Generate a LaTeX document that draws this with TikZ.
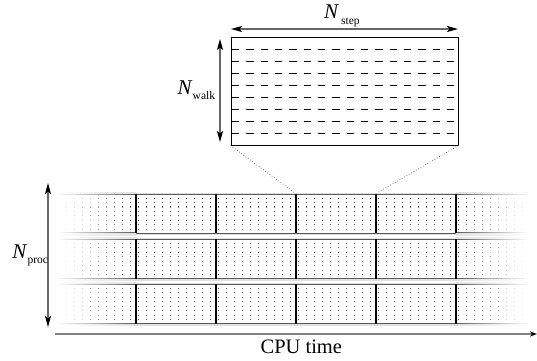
\documentclass[tikz,border=0pt]{standalone}
\usepackage{fontspec}
\setmainfont{Liberation Serif}
\usetikzlibrary{arrows.meta}
\begin{document}
\begin{tikzpicture}[x=1pt,y=-1pt,
  tip/.tip={Stealth[length=11pt,width=6pt,inset=2.5pt,color=black]},
  dim/.style={draw=black!60, line width=1.1pt, tip-tip},
  axisline/.style={draw=black!50, line width=1.4pt, -{Stealth[length=7pt,width=5pt,inset=2pt,color=black]}},
  lab/.style={inner sep=0pt, anchor=base west},
  bigN/.style={lab, font=\fontsize{21}{24}\selectfont\itshape},
  subl/.style={lab, font=\fontsize{11.5}{13}\selectfont},
  divider/.style={draw=black, line width=1.2pt},
  zoomline/.style={draw=black!60, line width=0.7pt, dotted},
  walkdash/.style={draw=black, line width=0.9pt, dash pattern=on 7.3pt off 7.03pt}]
\useasboundingbox (0,0) rectangle (537,360);

% top zoom box
\node[draw=black, line width=1pt, minimum width=227pt, minimum height=108pt, inner sep=0pt] (box) at (344.5,91) {};
\foreach \k in {0,...,7}{
  \draw[walkdash] (232,{49+12*\k}) -- (455,{49+12*\k});
}
\coordinate (s1) at (231,29);
\coordinate (s2) at (458,29);
\draw[dim] (s1) -- (s2);
\node[bigN] (ns) at (324,18.3) {N};
\node[subl] (nss) at (341,24) {step};
\coordinate (w1) at (220,39);
\coordinate (w2) at (220,142);
\draw[dim] (w1) -- (w2);
\node[bigN] (nw) at (177.3,94) {N};
\node[subl] (nws) at (192.5,99.3) {walk};

% processor rows
\foreach \t in {194,239.2,284.4}{
  \pgfmathsetmacro{\b}{\t+39.3}
  % lines
  \foreach \yy/\cc/\hh in {\t/black!65/0.5, \b/black!65/0.5}{
    \shade[left color=white, right color=\cc] (56,\yy-\hh) rectangle (136,\yy+\hh);
    \fill[\cc] (136,\yy-\hh) rectangle (456,\yy+\hh);
    \shade[left color=\cc, right color=white] (456,\yy-\hh) rectangle (528,\yy+\hh);
  }
  % light bands
  \shade[left color=white, right color=black!12] (56,\t-1.5) rectangle (136,\t-0.5);
  \fill[black!12] (136,\t-1.5) rectangle (456,\t-0.5);
  \shade[left color=black!12, right color=white] (456,\t-1.5) rectangle (528,\t-0.5);
  \shade[left color=white, right color=black!12] (56,\b+0.5) rectangle (136,\b+2);
  \fill[black!12] (136,\b+0.5) rectangle (456,\b+2);
  \shade[left color=black!12, right color=white] (456,\b+0.5) rectangle (528,\b+2);
  % dots
  \foreach \i in {0,...,59}{
    \pgfmathsetmacro{\f}{\i<10 ? \i/10 : (\i>49 ? (59-\i)/10 : 1)}
    \pgfmathsetmacro{\c}{65*\f}
    \pgfmathsetmacro{\x}{58.3+8*\i}
    \draw[black!\c, line width=1.1pt, dash pattern=on 1.1pt off 3.37pt] (\x,\t+3.5) -- (\x,\t+36.2);
  }
  % dividers
  \foreach \x in {136,216,296,376,456}{
    \draw[divider] (\x,\t) -- (\x,\b);
  }
}

% zoom connectors
\coordinate (z1) at (295,193);
\coordinate (z2) at (377,193);
\draw[zoomline] (box.south west) -- (z1);
\draw[zoomline] (box.south east) -- (z2);

% N_proc arrow
\coordinate (p1) at (48,183);
\coordinate (p2) at (48,327);
\draw[dim] (p1) -- (p2);
\node[bigN] (np) at (12.3,258.3) {N};
\node[subl] (nps) at (27.3,263.3) {proc};

% time axis
\coordinate (a1) at (55,334);
\coordinate (a2) at (537,334);
\draw[axisline] (a1) -- (a2);
\node[inner sep=0pt, anchor=base, font=\fontsize{20.5}{24}\selectfont] (cpu) at (301.3,353.3) {CPU time};
\end{tikzpicture}
\end{document}
